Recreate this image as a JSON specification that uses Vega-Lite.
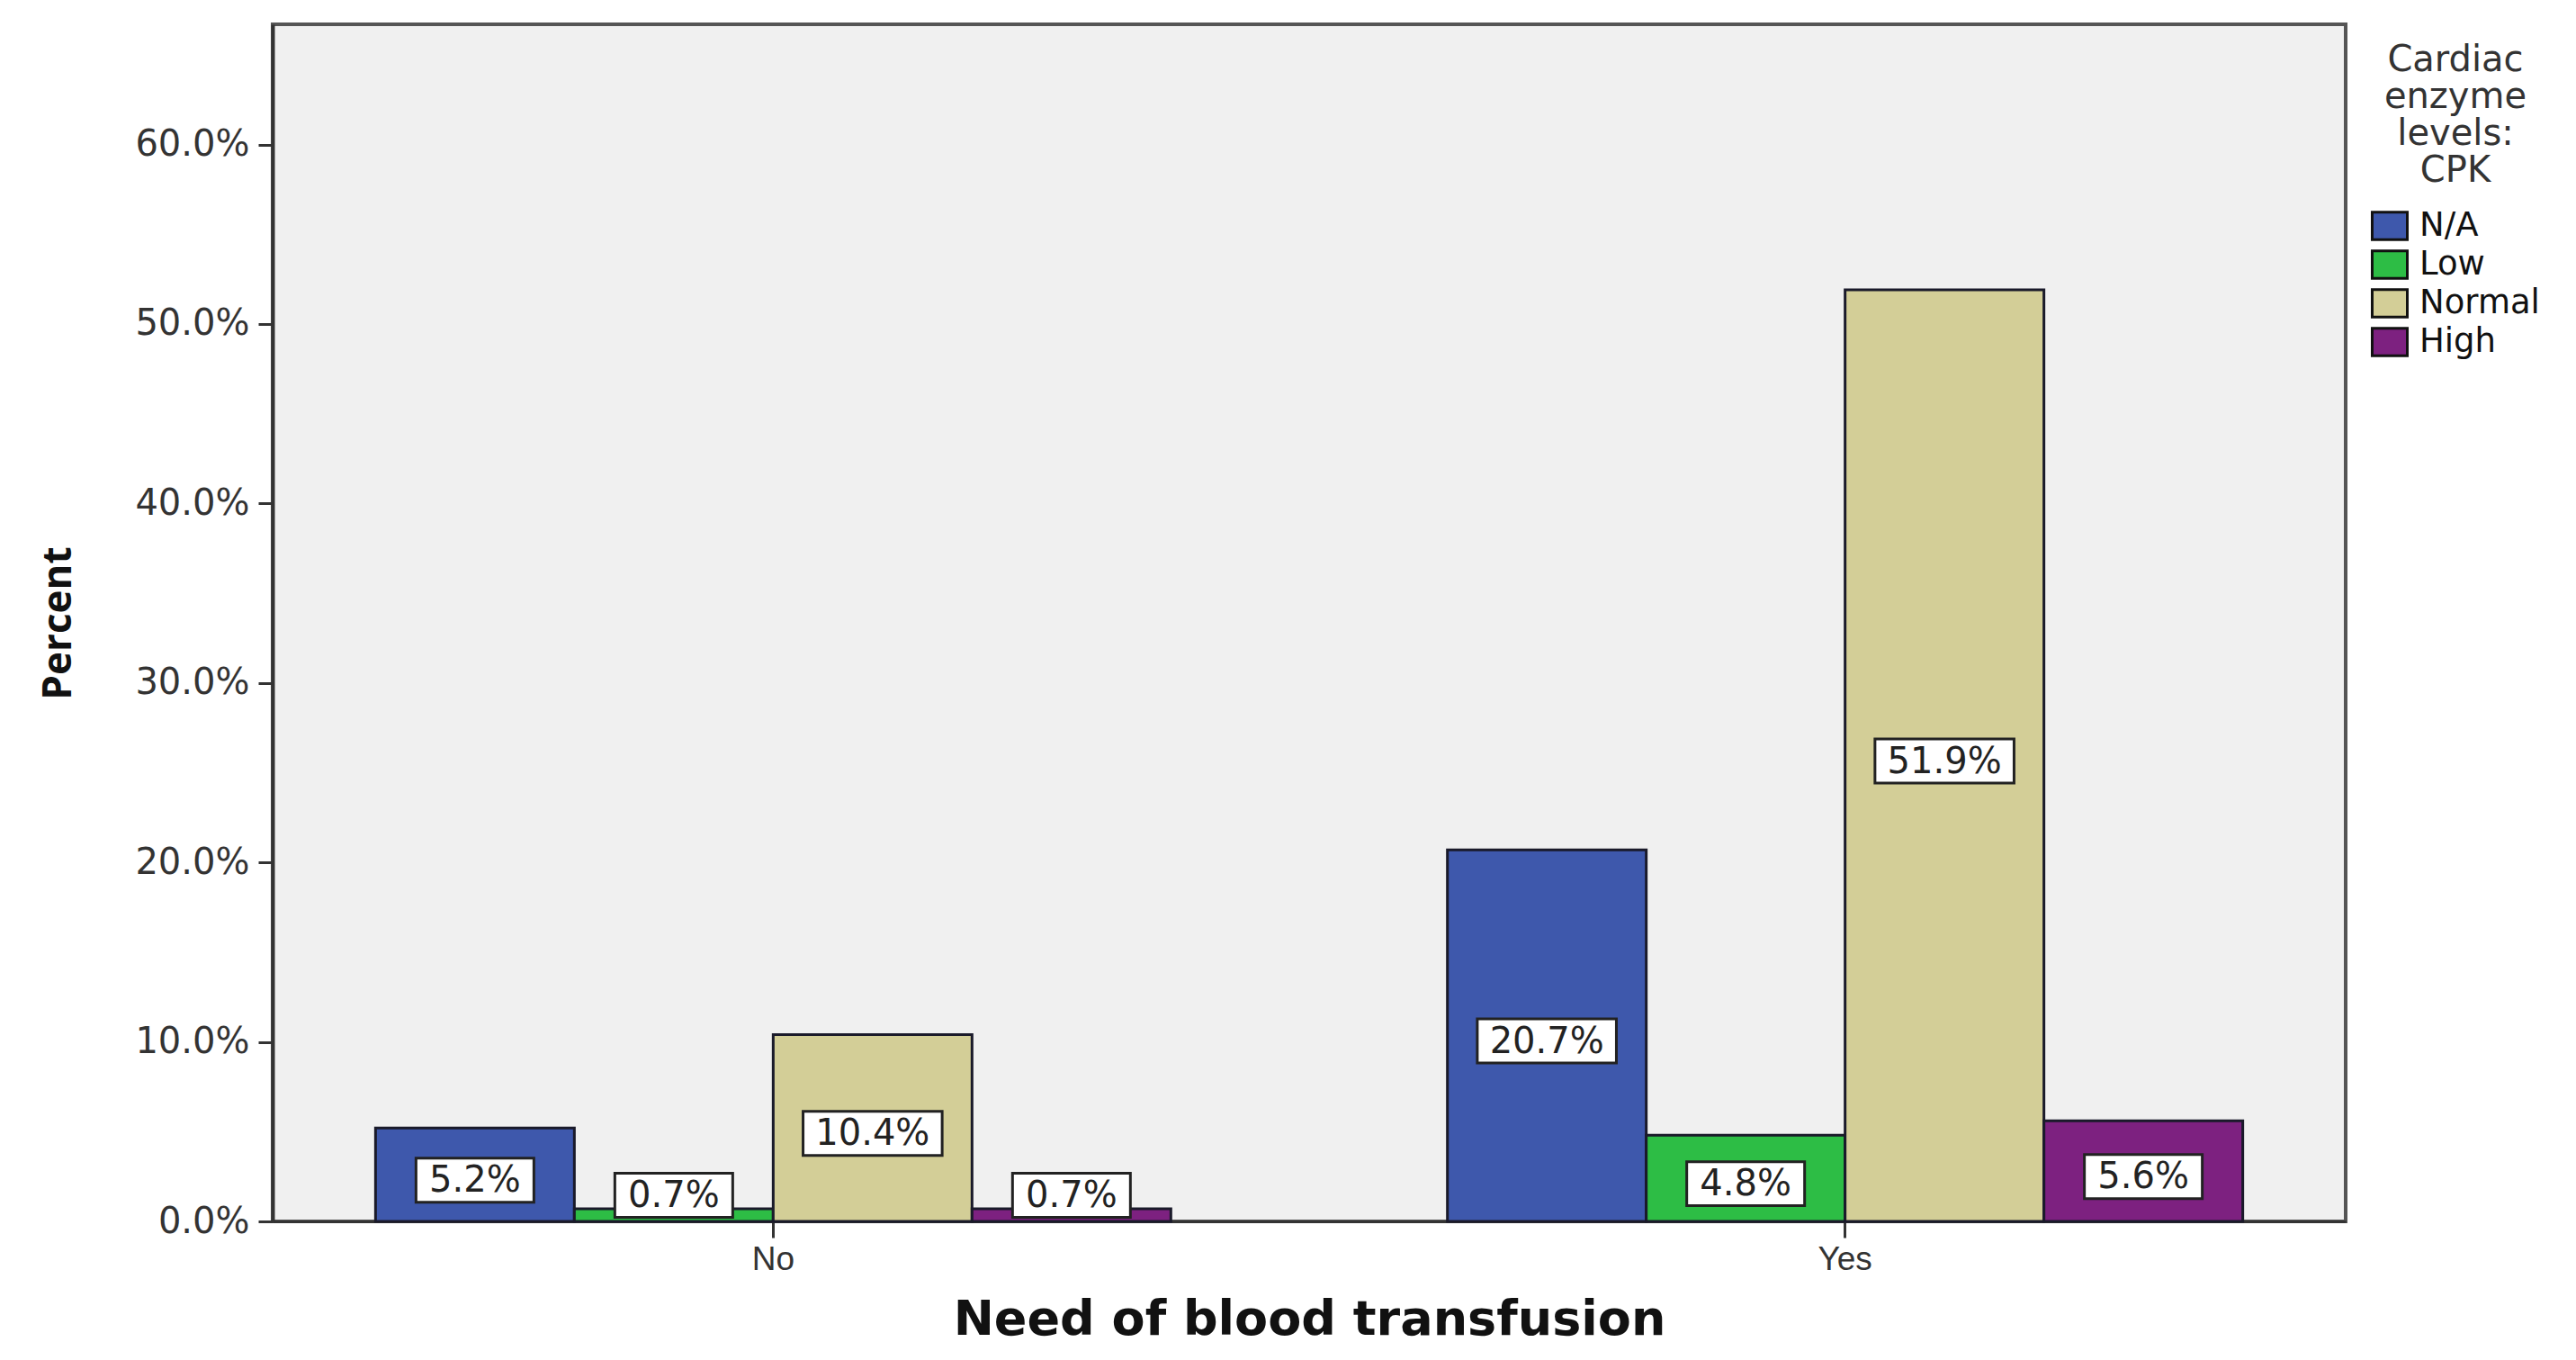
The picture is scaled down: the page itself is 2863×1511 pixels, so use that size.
{
  "$schema": "https://vega.github.io/schema/vega-lite/v6.json",
  "width": 2304,
  "height": 1330,
  "autosize": {"type": "none"},
  "padding": {"left": 303, "top": 27, "right": 256, "bottom": 154},
  "background": "white",
  "data": {
    "values": [
      {"transfusion": "No", "cpk": "N/A", "pct": 0.052},
      {"transfusion": "No", "cpk": "Low", "pct": 0.007},
      {"transfusion": "No", "cpk": "Normal", "pct": 0.104},
      {"transfusion": "No", "cpk": "High", "pct": 0.007},
      {"transfusion": "Yes", "cpk": "N/A", "pct": 0.207},
      {"transfusion": "Yes", "cpk": "Low", "pct": 0.048},
      {"transfusion": "Yes", "cpk": "Normal", "pct": 0.519},
      {"transfusion": "Yes", "cpk": "High", "pct": 0.056}
    ]
  },
  "encoding": {
    "x": {
      "field": "transfusion", "type": "nominal",
      "scale": {"paddingInner": 0.258, "paddingOuter": 0.096},
      "axis": {
        "title": "Need of blood transfusion",
        "titleFont": "DejaVu Sans", "titleFontWeight": "bold", "titleFontSize": 54,
        "titleColor": "#111", "titlePadding": 22,
        "labelAngle": 0, "labelFont": "Liberation Sans", "labelFontSize": 37,
        "labelColor": "#333", "labelPadding": 6,
        "tickSize": 18, "tickWidth": 3, "tickColor": "#333",
        "domainColor": "#333", "domainWidth": 3
      }
    },
    "xOffset": {"field": "cpk", "type": "nominal", "sort": ["N/A", "Low", "Normal", "High"], "scale": {"paddingInner": 0, "paddingOuter": 0}}
  },
  "layer": [
    {
      "mark": {"type": "bar", "stroke": "#1a1a2a", "strokeWidth": 3},
      "encoding": {
        "y": {
          "field": "pct", "type": "quantitative",
          "scale": {"domain": [0, 0.667], "nice": false},
          "axis": {
            "title": "Percent", "format": ".1%",
            "values": [0, 0.1, 0.2, 0.3, 0.4, 0.5, 0.6],
            "grid": false,
            "titleFont": "Open Sans", "titleFontWeight": "bold", "titleFontSize": 44,
            "titleColor": "#111", "titlePadding": 62,
            "labelFont": "DejaVu Sans", "labelFontSize": 40, "labelColor": "#333",
            "labelPadding": 10,
            "tickSize": 16, "tickWidth": 3, "tickColor": "#333",
            "domainColor": "#333", "domainWidth": 4
          }
        },
        "color": {
          "field": "cpk", "type": "nominal",
          "sort": ["N/A", "Low", "Normal", "High"],
          "scale": {"domain": ["N/A", "Low", "Normal", "High"], "range": ["#3E58AC", "#2DBD45", "#D3CE97", "#7D2180"]},
          "legend": {
            "title": ["Cardiac", "enzyme", "levels:", "CPK"],
            "orient": "right", "offset": 8, "padding": 20,
            "titleFont": "DejaVu Sans", "titleFontSize": 40, "titleFontWeight": "normal",
            "titleColor": "#333", "titleLineHeight": 41, "titleAlign": "center", "titleAnchor": "middle",
            "titlePadding": 20,
            "labelFont": "DejaVu Sans", "labelFontSize": 37, "labelColor": "#111", "labelOffset": 12,
            "symbolType": "M-1,-0.78L1,-0.78L1,0.78L-1,0.78Z", "symbolSize": 1521,
            "symbolStrokeColor": "#111", "symbolStrokeWidth": 3, "symbolOpacity": 1,
            "rowPadding": -4
          }
        }
      }
    },
    {
      "transform": [{"calculate": "max(datum.pct / 2 - 0.003, 0.0145)", "as": "labelY"}],
      "mark": {"type": "point", "filled": true, "fill": "white", "stroke": "#222", "strokeWidth": 3, "opacity": 1, "size": 17161},
      "encoding": {
        "y": {"field": "labelY", "type": "quantitative", "scale": {"domain": [0, 0.667], "nice": false}},
        "shape": {
          "condition": {"test": "datum.pct >= 0.1", "value": "M-1.18,-0.374L1.18,-0.374L1.18,0.374L-1.18,0.374Z"},
          "value": "M-1,-0.374L1,-0.374L1,0.374L-1,0.374Z"
        }
      }
    },
    {
      "transform": [{"calculate": "max(datum.pct / 2 - 0.003, 0.0145)", "as": "labelY"}],
      "mark": {"type": "text", "font": "DejaVu Sans", "fontSize": 40, "color": "#222", "baseline": "middle", "align": "center", "dy": 1},
      "encoding": {
        "y": {"field": "labelY", "type": "quantitative", "scale": {"domain": [0, 0.667], "nice": false}},
        "text": {"field": "pct", "type": "quantitative", "format": ".1%"}
      }
    }
  ],
  "config": {
    "view": {"fill": "#F0F0F0", "stroke": "#555", "strokeWidth": 4},
    "axis": {"ticks": true}
  }
}
